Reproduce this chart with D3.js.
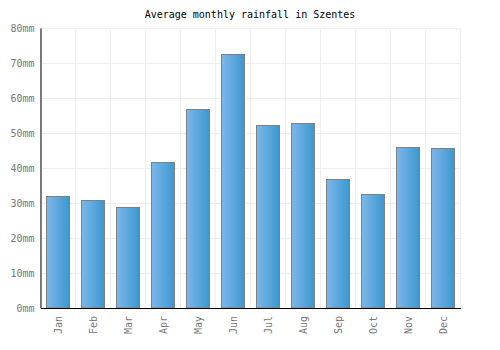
<!DOCTYPE html>
<html><head><meta charset="utf-8">
<script src="https://cdn.jsdelivr.net/npm/d3@7"></script>
<style>body{margin:0;background:#fff}svg{display:block}</style>
</head><body>
<svg id="c" width="500" height="350"></svg>
<script>
const months = ["Jan","Feb","Mar","Apr","May","Jun","Jul","Aug","Sep","Oct","Nov","Dec"];
const rainfall = [32, 30.8, 29, 41.6, 57, 72.5, 52.2, 52.8, 36.8, 32.5, 45.9, 45.6];
const yTicks = [0,10,20,30,40,50,60,70,80];
const title = "Average monthly rainfall in Szentes";

const svg = d3.select("#c");
const m = {l:40.5, r:460.5, t:28, b:308};
const x = d3.scaleBand().domain(months).range([m.l, m.r]).paddingInner(12/35).paddingOuter(6/35);
const xg = d3.scaleBand().domain(months).range([m.l, m.r]);
const y = d3.scaleLinear().domain([0,80]).range([m.b, m.t]);
const font = "'DejaVu Sans Mono', monospace";

const defs = svg.append("defs");
const g = defs.append("linearGradient").attr("id","bg").attr("x1","0").attr("x2","1").attr("y1","0").attr("y2","0");
g.append("stop").attr("offset","0%").attr("stop-color","#7db7ea");
g.append("stop").attr("offset","100%").attr("stop-color","#3b98d0");

// grid
svg.append("g").selectAll("line").data(yTicks).join("line")
  .attr("x1", m.l).attr("x2", m.r)
  .attr("y1", d => Math.round(y(d))+0.5).attr("y2", d => Math.round(y(d))+0.5)
  .attr("stroke", "#eeeeee");
svg.append("g").selectAll("line").data(months.concat(["_end"])).join("line")
  .attr("x1", (d,i) => m.l + i*xg.bandwidth()).attr("x2", (d,i) => m.l + i*xg.bandwidth())
  .attr("y1", m.t).attr("y2", m.b)
  .attr("stroke", "#eeeeee");

// bars
svg.append("g").selectAll("rect").data(rainfall).join("rect")
  .attr("x", (d,i) => Math.floor(x(months[i]))+0.5)
  .attr("y", d => Math.round(y(d))+0.5)
  .attr("width", Math.round(x.bandwidth()))
  .attr("height", d => m.b - Math.round(y(d)) - 0.5)
  .attr("fill", "url(#bg)")
  .attr("stroke", "#808080")
  .attr("stroke-width", 1);

// axes
const ya = d3.axisLeft(y).tickValues(yTicks).tickSize(0).tickPadding(6).tickFormat(d => d + "mm");
const yG = svg.append("g").attr("transform", `translate(${m.l},0)`).call(ya);
yG.select(".domain").attr("stroke","#000");
yG.selectAll("text").attr("font-family", font).attr("font-size", 10).attr("fill","#777");

const xa = d3.axisBottom(xg).tickSize(0).tickPadding(0);
const xG = svg.append("g").attr("transform", `translate(0,${m.b})`).call(xa);
xG.select(".domain").attr("stroke","#000");
xG.selectAll("text")
  .attr("font-family", font).attr("font-size", 10).attr("fill","#777")
  .attr("transform","rotate(-90)")
  .attr("text-anchor","end")
  .attr("x", -8).attr("y", 0).attr("dy","0.35em");

svg.append("text").attr("x", 250).attr("y", 18).attr("text-anchor","middle")
  .attr("font-family", font).attr("font-size", 10).attr("fill","#000").text(title);
</script>
</body></html>
